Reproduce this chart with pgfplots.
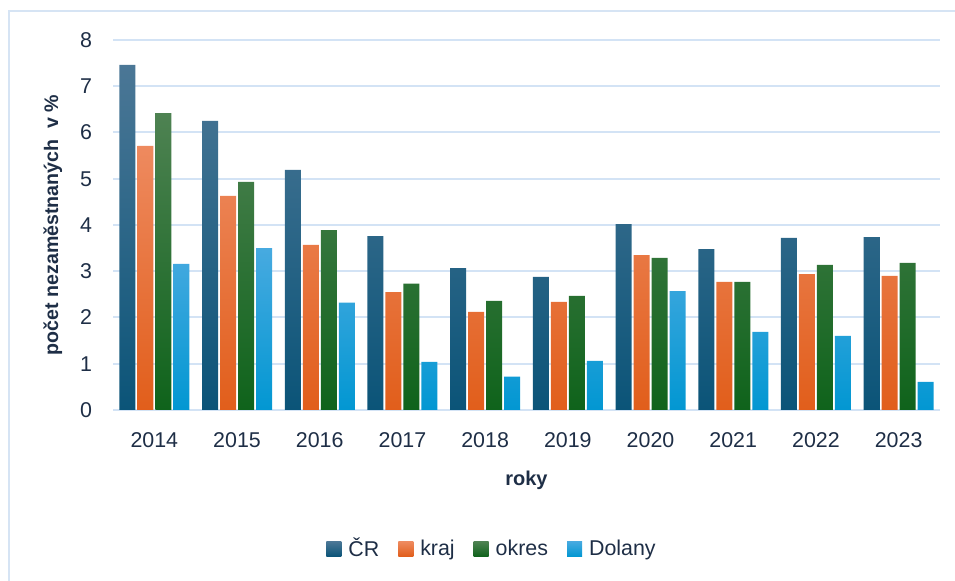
\documentclass[border=0pt]{standalone}
\usepackage{pgfplots}
\pgfplotsset{compat=1.18}
\usepackage{pgfplotstable}
\usepackage{fontspec}
\setmainfont{Liberation Sans}

\definecolor{txt}{HTML}{1E2E46}
\definecolor{gridc}{HTML}{D3E3F5}
\definecolor{framec}{HTML}{D6E4F4}
\definecolor{crT}{HTML}{4B7796}
\definecolor{crM}{HTML}{19648A}
\definecolor{crB}{HTML}{0B5478}
\definecolor{krT}{HTML}{EE8A5F}
\definecolor{krM}{HTML}{F2752B}
\definecolor{krB}{HTML}{E15E1B}
\definecolor{okT}{HTML}{4E8252}
\definecolor{okM}{HTML}{1A7024}
\definecolor{okB}{HTML}{0F631B}
\definecolor{doT}{HTML}{47AAE0}
\definecolor{doM}{HTML}{10A5E2}
\definecolor{doB}{HTML}{0297D2}

% years 2014..2023 plotted at 0..9
\pgfplotstableread{
x  cr    kraj  okres dolany
0  7.46  5.71  6.42  3.16
1  6.25  4.63  4.93  3.50
2  5.19  3.57  3.89  2.32
3  3.76  2.55  2.73  1.04
4  3.07  2.12  2.36  0.72
5  2.88  2.34  2.47  1.06
6  4.02  3.35  3.29  2.57
7  3.48  2.77  2.77  1.69
8  3.72  2.94  3.14  1.60
9  3.74  2.90  3.18  0.61
}\data

\begin{document}
\begin{tikzpicture}
  \begin{axis}[
      width=413.5pt, height=185pt, scale only axis,
      ybar=1pt, bar width=8pt,
      xmin=-0.5, xmax=9.5, ymin=0, ymax=8,
      xtick={0,...,9},
      xticklabels={2014,2015,2016,2017,2018,2019,2020,2021,2022,2023},
      ytick={0,...,8},
      axis line style={draw=none},
      major tick length=0pt,
      ymajorgrids, grid style={gridc, line width=1pt},
      tick label style={font=\fontsize{10.7}{12}\selectfont, text=txt},
      /pgf/number format/assume math mode=true,
      yticklabel style={xshift=-7pt},
      xticklabel style={yshift=-7.5pt},
      xlabel={\textbf{roky}},
      xlabel style={at={(axis description cs:0.5,-0.189)}, anchor=center,
        font=\fontsize{10}{12}\selectfont, text=txt},
      ylabel={\textbf{počet nezaměstnaných \ v \%}},
      ylabel style={at={(axis description cs:-0.0726,0.5)}, anchor=center,
        font=\fontsize{9.8}{12}\selectfont, text=txt},
      clip=false,
      legend style={at={(axis description cs:0.4595,-0.3757)}, anchor=center,
        draw=none, fill=none, legend columns=-1,
        font=\fontsize{10.7}{12}\selectfont, text=txt,
        /tikz/every even column/.append style={column sep=7.5pt},
        /tikz/every odd column/.append style={column sep=1.5pt}},
      legend cell align=left,
      legend image code/.code={\path[#1,draw=none] (0pt,-3.75pt) rectangle (7.5pt,3.75pt);},
    ]
    \addplot[draw=none, top color=crT, middle color=crM, bottom color=crB] table[x=x, y=cr] {\data};
    \addplot[draw=none, top color=krT, middle color=krM, bottom color=krB] table[x=x, y=kraj] {\data};
    \addplot[draw=none, top color=okT, middle color=okM, bottom color=okB] table[x=x, y=okres] {\data};
    \addplot[draw=none, top color=doT, middle color=doM, bottom color=doB] table[x=x, y=dolany] {\data};
    \legend{ČR, kraj, okres, Dolany}
    \coordinate (bbsw) at (axis description cs:-0.13664,-0.46216);
    \coordinate (bbne) at (axis description cs:1.01814,1.10811);
    \coordinate (frsw) at (axis description cs:-0.1258,-0.47);
    \coordinate (frne) at (axis description cs:1.03,1.0784);
  \end{axis}
  \draw[framec, line width=1pt] (frsw) |- (frne);
  \pgfresetboundingbox
  \path[use as bounding box] (bbsw) rectangle (bbne);
\end{tikzpicture}
\end{document}
